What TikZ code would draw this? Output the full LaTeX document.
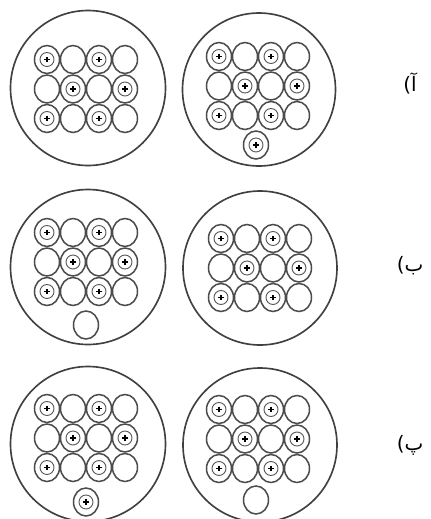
\documentclass[tikz,border=0pt]{standalone}
\usepackage{fontspec}
\newfontfamily\farsifont[Script=Arabic]{DejaVu Sans}
\TeXXeTstate=1

\tikzset{
  rim/.style={line width=1.4pt,black!75},
  cell/.style={line width=1.3pt,black!70},
  core/.style={line width=0.8pt,black!65},
  tag/.style={font=\farsifont\fontsize{17}{20}\selectfont,inner sep=0pt},
}

% kation: sphere with a + inside
\newcommand{\kation}[2]{%
  \draw[cell] (#1,#2) ellipse (12.5 and 14);
  \draw[core] (#1,#2) circle (7);
  \draw[line width=1pt] (#1-2.6,#2) -- (#1+2.6,#2)
      (#1,#2-2.6) -- (#1,#2+2.6);
}
% empty sphere
\newcommand{\vakant}[2]{%
  \draw[cell] (#1,#2) ellipse (12.5 and 14);
}
% 4x3 layer of spheres around (#1,#2)
\newcommand{\laag}[2]{%
  \foreach \i/\j in {0/0,2/0,1/1,3/1,0/2,2/2}
    \kation{#1-39+26*\i}{#2-29.5+29.5*\j};
  \foreach \i/\j in {1/0,3/0,0/1,2/1,1/2,3/2}
    \vakant{#1-39+26*\i}{#2-29.5+29.5*\j};
}

\begin{document}
\begin{tikzpicture}[x=0.03cm,y=-0.03cm]
    \useasboundingbox (0,0) rectangle (431,519);
    \clip (0,0) rectangle (431,519);

    % rij 1
    \draw[rim] (88,88) circle (77.5);
    \laag{86}{89}
    \draw[rim] (259,89.5) circle (76.5);
    \laag{258}{86}
    \kation{256}{145}
    \node[tag] (labelA) at (410,83) {\beginR^^^^200fآ)^^^^200f\endR};

    % rij 2
    \draw[rim] (88,267) circle (77.5);
    \laag{86}{262}
    \vakant{86}{325}
    \draw[rim] (260,268) circle (77);
    \laag{260}{268}
    \node[tag] (labelB) at (410,266) {\beginR^^^^200fب)^^^^200f\endR};

    % rij 3
    \draw[rim] (88,444) circle (77.5);
    \laag{86}{438}
    \kation{86}{502}
    \draw[rim] (260,445) circle (77);
    \laag{258}{439}
    \vakant{256}{500}
    \node[tag] (labelC) at (410,445) {\beginR^^^^200fپ)^^^^200f\endR};
\end{tikzpicture}
\end{document}
